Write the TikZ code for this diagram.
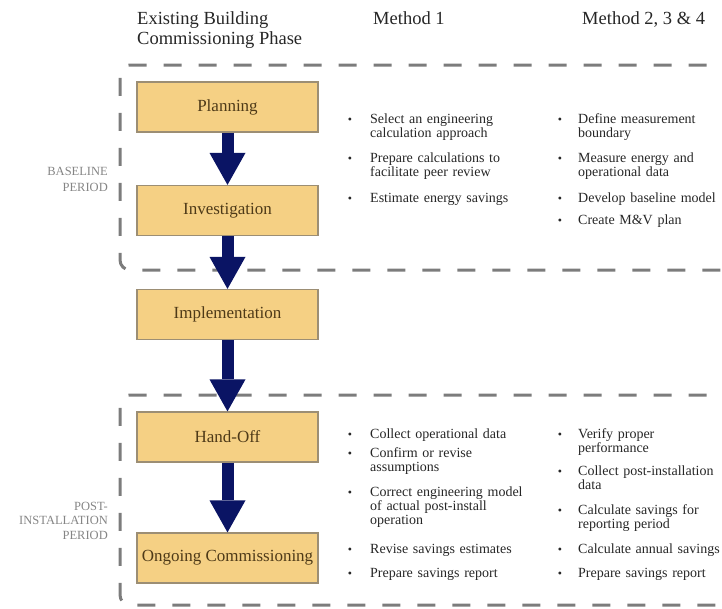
\documentclass[tikz,border=0pt]{standalone}
\usepackage{fontspec}
\setmainfont{Liberation Serif}
\usetikzlibrary{arrows.meta}
\definecolor{boxfill}{HTML}{F5D084}
\definecolor{boxdraw}{HTML}{9C8E74}
\definecolor{boxtext}{HTML}{4E3A18}
\definecolor{navy}{HTML}{0A1464}
\definecolor{dashgray}{HTML}{7C7C7C}
\definecolor{labgray}{HTML}{858585}
\definecolor{txt}{HTML}{262626}
\newcommand\bul[5]{%
  \node[dot] (#1d) at (#2,#4) {•};
  \node[item] (#1) at (#3,#4) {#5};}
\begin{document}
\begin{tikzpicture}[x=1pt,y=-1pt,
  phase/.style={draw=boxdraw, line width=1.2pt, fill=boxfill, minimum width=181pt, minimum height=50pt, inner sep=0pt, font=\fontsize{17}{20}\selectfont, text=boxtext},
  flow/.style={draw=navy, line width=12pt, -{Triangle[width=36pt,length=32pt,line width=0pt]}},
  region/.style={draw=dashgray, line width=3pt, dash pattern=on 18pt off 17pt, dash phase=18.5pt, rounded corners=10pt},
  head/.style={font=\fontsize{18.5}{18}\selectfont, text=txt, anchor=base west, inner sep=0pt},
  lab/.style={font=\fontsize{12.5}{15}\selectfont, text=labgray, anchor=base east, inner sep=0pt},
  item/.style={font=\fontsize{14}{14}\selectfont, text=txt, anchor=base west, inner sep=0pt, text width=200pt, align=left},
  dot/.style={font=\fontsize{12}{12}\selectfont, text=txt, anchor=base, inner sep=0pt}]
\clip (0,0) rectangle (722,608);
% dashed regions
\draw[region] (723,65) -- (120,65) -- (120,270) -- (723,270);
\draw[region] (723,395) -- (120,395) -- (120,605) -- (723,605);
% phases
\node[phase] (plan) at (227.5,107) {Planning};
\node[phase] (inv) at (227.5,210.5) {Investigation};
\node[phase] (impl) at (227.5,314.5) {Implementation};
\node[phase] (hand) at (227.5,437) {Hand-Off};
\node[phase] (ongo) at (227.5,558) {Ongoing Commissioning};
\draw[flow] (plan.south) -- (inv.north);
\draw[flow] (inv.south) -- (impl.north);
\draw[flow] (impl.south) -- (hand.north);
\draw[flow] (hand.south) -- (ongo.north);
% headers
\node[head] (h0a) at (137,24) {Existing Building};
\node[head] (h0b) at (137,44) {Commissioning Phase};
\node[head] (h1) at (373,24) {Method 1};
\node[head] (h2) at (582,24) {Method 2, 3 \& 4};
% period labels
\node[lab] (b1) at (108,175) {BASELINE};
\node[lab] (b2) at (108,191) {PERIOD};
\node[lab] (p1) at (108,510) {POST-};
\node[lab] (p2) at (108,524.5) {INSTALLATION};
\node[lab] (p3) at (108,539) {PERIOD};
% method 1, baseline
\bul{a1}{350}{370}{123}{Select an engineering\\calculation approach}
\bul{a2}{350}{370}{162}{Prepare calculations to\\facilitate peer review}
\bul{a3}{350}{370}{202}{Estimate energy savings}
% method 2-4, baseline
\bul{b1i}{560}{578}{123}{Define measurement\\boundary}
\bul{b2i}{560}{578}{162}{Measure energy and\\operational data}
\bul{b3i}{560}{578}{202}{Develop baseline model}
\bul{b4i}{560}{578}{224}{Create M\&V plan}
% method 1, post-installation
\bul{c1}{350}{370}{438}{Collect operational data}
\bul{c2}{350}{370}{457}{Confirm or revise\\assumptions}
\bul{c3}{350}{370}{496}{Correct engineering model\\of actual post-install\\operation}
\bul{c4}{350}{370}{553}{Revise savings estimates}
\bul{c5}{350}{370}{577}{Prepare savings report}
% method 2-4, post-installation
\bul{d1}{560}{578}{438}{Verify proper\\performance}
\bul{d2}{560}{578}{475}{Collect post-installation\\data}
\bul{d3}{560}{578}{514}{Calculate savings for\\reporting period}
\bul{d4}{560}{578}{553}{Calculate annual savings}
\bul{d5}{560}{578}{577}{Prepare savings report}
\end{tikzpicture}
\end{document}
